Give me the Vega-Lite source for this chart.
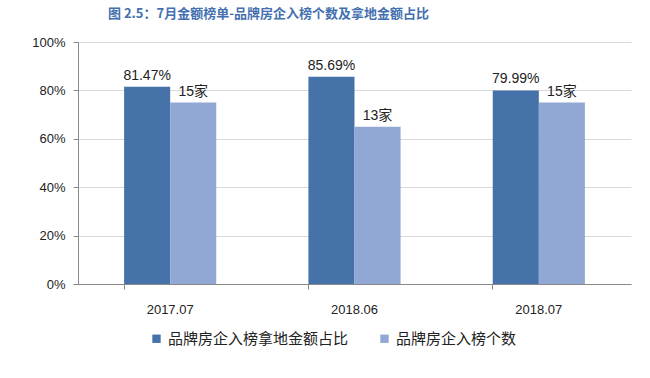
{
  "$schema": "https://vega.github.io/schema/vega-lite/v6.json",
  "width": 553,
  "height": 242,
  "autosize": {"type": "none"},
  "padding": {"left": 78, "top": 42, "right": 19, "bottom": 94},
  "background": "white",
  "title": {
    "text": "图 2.5：7月金额榜单-品牌房企入榜个数及拿地金额占比",
    "anchor": "start",
    "frame": "group",
    "dx": 30,
    "offset": 15,
    "fontSize": 13,
    "fontWeight": "bold",
    "color": "#4470b0",
    "font": "Noto Sans CJK SC"
  },
  "config": {
    "font": "Liberation Sans, Noto Sans CJK SC",
    "view": {"stroke": null},
    "axis": {"labelFont": "Liberation Sans, Noto Sans CJK SC"}
  },
  "data": {
    "values": [
      {"period": "2017.07", "series": "品牌房企入榜拿地金额占比", "value": 0.8147, "label": "81.47%"},
      {"period": "2017.07", "series": "品牌房企入榜个数", "value": 0.75, "label": "15家"},
      {"period": "2018.06", "series": "品牌房企入榜拿地金额占比", "value": 0.8569, "label": "85.69%"},
      {"period": "2018.06", "series": "品牌房企入榜个数", "value": 0.65, "label": "13家"},
      {"period": "2018.07", "series": "品牌房企入榜拿地金额占比", "value": 0.7999, "label": "79.99%"},
      {"period": "2018.07", "series": "品牌房企入榜个数", "value": 0.75, "label": "15家"}
    ]
  },
  "encoding": {
    "x": {
      "field": "period",
      "type": "nominal",
      "sort": null,
      "scale": {"paddingInner": 0.5, "paddingOuter": 0.25},
      "axis": {
        "title": null,
        "labelAngle": 0,
        "labelFontSize": 13,
        "labelColor": "#222",
        "labelPadding": 14,
        "bandPosition": 0,
        "tickSize": 5,
        "tickColor": "#888",
        "domainColor": "#888",
        "grid": false
      }
    },
    "xOffset": {
      "field": "series",
      "type": "nominal",
      "sort": ["品牌房企入榜拿地金额占比", "品牌房企入榜个数"],
      "scale": {"paddingInner": 0, "paddingOuter": 0}
    },
    "y": {
      "field": "value",
      "type": "quantitative",
      "scale": {"domain": [0, 1]},
      "axis": {
        "title": null,
        "format": ".0%",
        "values": [0, 0.2, 0.4, 0.6, 0.8, 1],
        "labelFontSize": 13,
        "labelColor": "#222",
        "labelPadding": 8,
        "tickSize": 5,
        "tickColor": "#888",
        "domainColor": "#888",
        "gridColor": "#d9d9d9"
      }
    }
  },
  "layer": [
    {
      "mark": {"type": "bar"},
      "encoding": {
        "color": {
          "field": "series",
          "type": "nominal",
          "scale": {
            "domain": ["品牌房企入榜拿地金额占比", "品牌房企入榜个数"],
            "range": ["#4672aa", "#92a8d4"]
          },
          "legend": {
            "title": null,
            "orient": "none",
            "direction": "horizontal",
            "legendX": 71,
            "legendY": 289,
            "symbolType": "square",
            "symbolSize": 70,
            "symbolStrokeWidth": 0,
            "labelFontSize": 15,
            "labelColor": "#222",
            "labelFont": "Noto Sans CJK SC",
            "labelLimit": 300,
            "labelOffset": 4,
            "columnPadding": 28
          }
        }
      }
    },
    {
      "mark": {"type": "text", "dy": -11, "fontSize": 14, "color": "#222", "font": "Liberation Sans, Noto Sans CJK SC"},
      "encoding": {
        "text": {"field": "label"}
      }
    }
  ]
}
